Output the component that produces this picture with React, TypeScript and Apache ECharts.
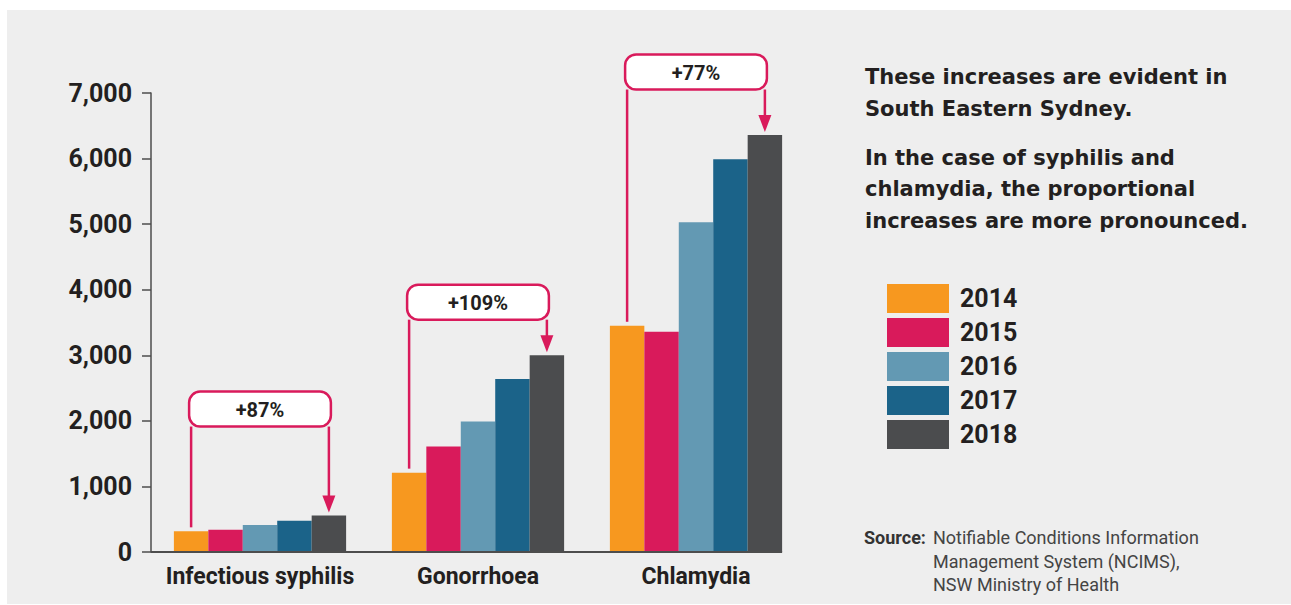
import React, { useEffect, useRef } from "react";
import * as echarts from "echarts";

// ---- Data ----
const categories = ["Infectious syphilis", "Gonorrhoea", "Chlamydia"];
const years = ["2014", "2015", "2016", "2017", "2018"];
const values2014 = [315, 1210, 3450];
const values2015 = [340, 1610, 3360];
const values2016 = [410, 1990, 5030];
const values2017 = [475, 2640, 5990];
const values2018 = [555, 3000, 6360];
const changeLabels = ["+87%", "+109%", "+77%"];
const yTicks = [0, 1000, 2000, 3000, 4000, 5000, 6000, 7000];

// ---- Layout / style ----
const COLORS = ["#f7981f", "#d91a5b", "#6399b3", "#1b6389", "#4b4c4e"];
const PINK = "#d91a5b";
const TEXT = "#231f20";
const CAT_GAP = 0.21;
// vertical level (in axis units) of each bracket's label box
const BRACKET_LEVEL = [2180, 3810, 7320];

const seriesValues = [values2014, values2015, values2016, values2017, values2018];

export default function App() {
  const ref = useRef<HTMLDivElement>(null);

  useEffect(() => {
    if (!ref.current) return;
    const chart = echarts.init(ref.current, undefined, { renderer: "svg" });

    const barSeries = years.map((y, i) => ({
      name: y,
      type: "bar",
      data: seriesValues[i],
      barGap: "0%",
      barCategoryGap: CAT_GAP * 100 + "%",
      itemStyle: { color: COLORS[i] },
      z: 2,
    }));

    const bracketData = categories.map((_, i) => [
      i,
      values2014[i],
      values2018[i],
      BRACKET_LEVEL[i],
    ]);

    const bracketSeries = {
      type: "custom",
      name: "brackets",
      clip: false,
      z: 5,
      silent: true,
      data: bracketData,
      encode: { x: 0, y: 1 },
      renderItem: (params: any, api: any) => {
        const i = params.dataIndex;
        const cat = api.value(0);
        const center = api.coord([cat, 0]);
        const bw = api.size([1, 0])[0];
        const barW = (bw * (1 - CAT_GAP)) / 5;
        const x1 = center[0] - 2 * barW;
        const x2 = center[0] + 2 * barW;
        const yStart = api.coord([cat, api.value(1)])[1];
        const yEnd = api.coord([cat, api.value(2)])[1];
        const yBox = api.coord([cat, api.value(3)])[1];
        const boxH = 35;
        const children: any[] = [
          {
            type: "line",
            shape: { x1: x1, y1: yBox + boxH / 2, x2: x1, y2: yStart - 4 },
            style: { stroke: PINK, lineWidth: 2.5 },
          },
          {
            type: "line",
            shape: { x1: x2, y1: yBox + boxH / 2, x2: x2, y2: yEnd - 18 },
            style: { stroke: PINK, lineWidth: 2.5 },
          },
          {
            type: "polygon",
            shape: {
              points: [
                [x2 - 6.5, yEnd - 20],
                [x2 + 6.5, yEnd - 20],
                [x2, yEnd - 3],
              ],
            },
            style: { fill: PINK },
          },
          {
            type: "rect",
            shape: { x: x1 - 2, y: yBox - boxH / 2, width: x2 - x1 + 4, height: boxH, r: 11 },
            style: { fill: "#ffffff", stroke: PINK, lineWidth: 2.5 },
          },
          {
            type: "text",
            style: {
              text: changeLabels[i],
              x: (x1 + x2) / 2,
              y: yBox + 1,
              align: "center",
              verticalAlign: "middle",
              fill: TEXT,
              font: "bold 20px Roboto",
            },
          },
        ];
        if (i === categories.length - 1) {
          const base = api.coord([cat, 0])[1];
          children.push({
            type: "line",
            shape: { x1: params.coordSys.x, y1: base, x2: x2 + barW / 2, y2: base },
            style: { stroke: "#4d4d4d", lineWidth: 2 },
          });
        }
        return { type: "group", children };
      },
    };

    chart.setOption({
      animation: false,
      backgroundColor: "#ffffff",
      grid: { left: 151, right: 486, top: 93, bottom: 53 },
      legend: {
        orient: "vertical",
        left: 887,
        top: 284,
        padding: 0,
        itemWidth: 62,
        itemHeight: 29,
        itemGap: 5,
        icon: "rect",
        data: years,
        selectedMode: false,
        textStyle: {
          fontFamily: "Roboto",
          fontWeight: "bold",
          fontSize: 25,
          color: TEXT,
          padding: [0, 0, 0, 6],
        },
      },
      xAxis: {
        type: "category",
        data: categories,
        axisLine: { show: false },
        axisTick: { show: false },
        axisLabel: {
          interval: 0,
          margin: 13,
          fontFamily: "Roboto",
          fontWeight: "bold",
          fontSize: 23,
          color: TEXT,
        },
      },
      yAxis: {
        type: "value",
        min: 0,
        max: 7000,
        interval: 1000,
        splitLine: { show: false },
        axisLine: { show: true, lineStyle: { color: "#4d4d4d", width: 1.5 } },
        axisTick: { show: true, length: 9, lineStyle: { color: "#4d4d4d", width: 1.5 } },
        axisLabel: {
          margin: 19,
          fontFamily: "Roboto",
          fontWeight: "bold",
          fontSize: 25,
          color: TEXT,
          formatter: (v: number) =>
            yTicks.includes(v) ? v.toLocaleString("en-US") : "",
        },
      },
      graphic: [
        {
          type: "rect",
          z: -10,
          silent: true,
          shape: { x: 7, y: 10, width: 1284, height: 594 },
          style: { fill: "#eeeeee" },
        },
        {
          type: "text",
          x: 865,
          y: 61,
          style: {
            text: "These increases are evident in\nSouth Eastern Sydney.",
            font: "bold 21px 'DejaVu Sans'",
            lineHeight: 32,
            fill: TEXT,
            verticalAlign: "top",
          },
        },
        {
          type: "text",
          x: 865,
          y: 142,
          style: {
            text:
              "In the case of syphilis and\nchlamydia, the proportional\nincreases are more pronounced.",
            font: "bold 21px 'DejaVu Sans'",
            lineHeight: 31.5,
            fill: TEXT,
            verticalAlign: "top",
          },
        },
        {
          type: "text",
          x: 864,
          y: 526,
          style: {
            text: "Source:",
            font: "bold 18px Roboto",
            lineHeight: 23.5,
            fill: "#333333",
            verticalAlign: "top",
          },
        },
        {
          type: "text",
          x: 933,
          y: 526,
          style: {
            text:
              "Notifiable Conditions Information\nManagement System (NCIMS),\nNSW Ministry of Health",
            font: "18px Roboto",
            lineHeight: 23.5,
            fill: "#444444",
            verticalAlign: "top",
          },
        },
      ],
      series: [...barSeries, bracketSeries],
    });

    return () => chart.dispose();
  }, []);

  return (
    <div
      ref={ref}
      style={{ position: "absolute", left: 0, top: 0, width: 1291, height: 605 }}
    />
  );
}
